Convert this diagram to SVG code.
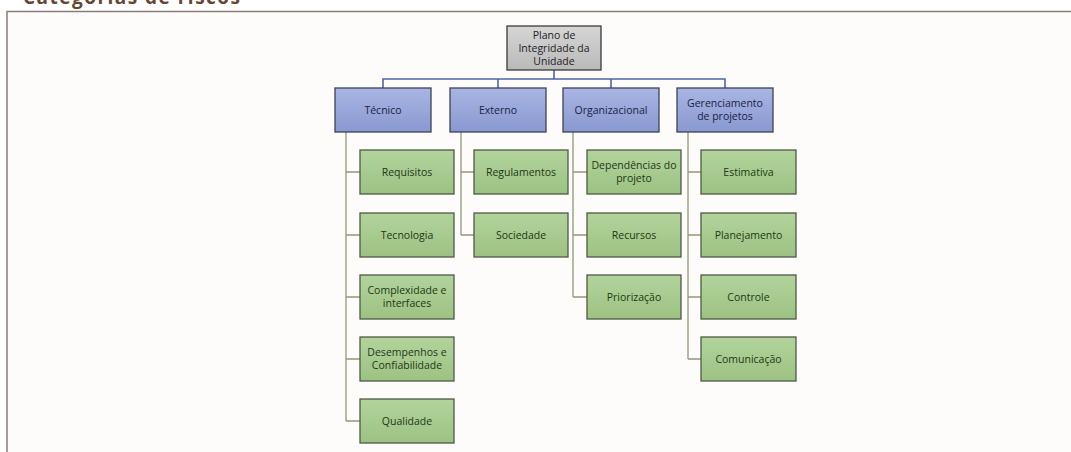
<svg xmlns="http://www.w3.org/2000/svg" width="1071" height="452" viewBox="0 0 1071 452">
<defs>
<linearGradient id="gGreen" x1="0" y1="0" x2="0" y2="1"><stop offset="0" stop-color="#b2d49c"/><stop offset="1" stop-color="#9cc283"/></linearGradient>
<linearGradient id="gBlue" x1="0" y1="0" x2="0" y2="1"><stop offset="0" stop-color="#a9b5e3"/><stop offset="1" stop-color="#8998d0"/></linearGradient>
<linearGradient id="gGray" x1="0" y1="0" x2="0" y2="1"><stop offset="0" stop-color="#d6d6d6"/><stop offset="1" stop-color="#b9b9b9"/></linearGradient>
<style>
text{font-family:"Open Sans","Liberation Sans",sans-serif;font-size:10.5px;text-anchor:middle}
.green rect{fill:url(#gGreen);stroke:#4e5a46;stroke-width:1.3}
.green text{fill:#1f3714}
.blue rect{fill:url(#gBlue);stroke:#3c4256;stroke-width:1.3}
.blue text{fill:#1b2146}
.root rect{fill:url(#gGray);stroke:#3a3a3a;stroke-width:1.3}
.root text{fill:#222}
.bar{fill:none;stroke:#4d66aa;stroke-width:1.6}
.tree{fill:none;stroke:#8e9a74;stroke-width:1.3}
</style>
</defs>
<rect x="0" y="0" width="1071" height="452" fill="#ffffff"/>
<text x="23" y="4" style="font-size:19px;font-weight:bold;fill:#654632;text-anchor:start" textLength="217">Categorias de riscos</text>
<rect x="7" y="11.5" width="1090" height="460" fill="#fefcfb" stroke="#8b7b75" stroke-width="1.5"/>

<g id="connectors">
<path class="bar" d="M554 70V79M383 88V79H725V88M498 79V88M611 79V88"/>
<path class="tree" d="M346 132V421M346 172H360M346 235H360M346 297H360M346 359H360M346 421H360"/>
<path class="tree" d="M461 132V235M461 172H474M461 235H474"/>
<path class="tree" d="M573 132V297M573 172H587M573 235H587M573 297H587"/>
<path class="tree" d="M688 132V359M688 172H701M688 235H701M688 297H701M688 359H701"/>
</g>

<g id="root" class="root"><rect x="507" y="26" width="94" height="44"/><text x="554" y="38.5">Plano de</text><text x="554" y="51.5">Integridade da</text><text x="554" y="64.5">Unidade</text></g>

<g id="tecnico" class="blue"><rect x="335" y="88" width="96" height="44"/><text x="383" y="113.5">Técnico</text></g>
<g id="externo" class="blue"><rect x="450" y="88" width="96" height="44"/><text x="498" y="113.5">Externo</text></g>
<g id="organizacional" class="blue"><rect x="563" y="88" width="96" height="44"/><text x="611" y="113.5">Organizacional</text></g>
<g id="gerenciamento" class="blue"><rect x="677" y="88" width="96" height="44"/><text x="725" y="107">Gerenciamento</text><text x="725" y="120">de projetos</text></g>

<g id="requisitos" class="green"><rect x="360" y="150" width="94" height="44"/><text x="407" y="175.5">Requisitos</text></g>
<g id="tecnologia" class="green"><rect x="360" y="213" width="94" height="44"/><text x="407" y="238.5">Tecnologia</text></g>
<g id="complexidade" class="green"><rect x="360" y="275" width="94" height="44"/><text x="407" y="294">Complexidade e</text><text x="407" y="307">interfaces</text></g>
<g id="desempenhos" class="green"><rect x="360" y="337" width="94" height="44"/><text x="407" y="356">Desempenhos e</text><text x="407" y="369">Confiabilidade</text></g>
<g id="qualidade" class="green"><rect x="360" y="399" width="94" height="44"/><text x="407" y="424.5">Qualidade</text></g>

<g id="regulamentos" class="green"><rect x="474" y="150" width="94" height="44"/><text x="521" y="175.5">Regulamentos</text></g>
<g id="sociedade" class="green"><rect x="474" y="213" width="94" height="44"/><text x="521" y="238.5">Sociedade</text></g>

<g id="dependencias" class="green"><rect x="587" y="150" width="94" height="44"/><text x="634" y="169">Dependências do</text><text x="634" y="182">projeto</text></g>
<g id="recursos" class="green"><rect x="587" y="213" width="94" height="44"/><text x="634" y="238.5">Recursos</text></g>
<g id="priorizacao" class="green"><rect x="587" y="275" width="94" height="44"/><text x="634" y="300.5">Priorização</text></g>

<g id="estimativa" class="green"><rect x="701" y="150" width="95" height="44"/><text x="748.5" y="175.5">Estimativa</text></g>
<g id="planejamento" class="green"><rect x="701" y="213" width="95" height="44"/><text x="748.5" y="238.5">Planejamento</text></g>
<g id="controle" class="green"><rect x="701" y="275" width="95" height="44"/><text x="748.5" y="300.5">Controle</text></g>
<g id="comunicacao" class="green"><rect x="701" y="337" width="95" height="44"/><text x="748.5" y="362.5">Comunicação</text></g>
</svg>
